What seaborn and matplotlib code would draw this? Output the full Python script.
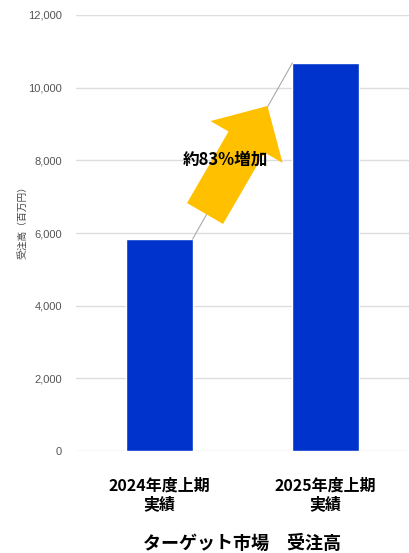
import matplotlib
matplotlib.use("Agg")
import matplotlib.pyplot as plt
import seaborn as sns
import pandas as pd

categories = ["2024年度上期\n実績", "2025年度上期\n実績"]
values = [5830, 10680]
yticks = [0, 2000, 4000, 6000, 8000, 10000, 12000]
ytick_labels = ["0", "2,000", "4,000", "6,000", "8,000", "10,000", "12,000"]
annotation_text = "約83%増加"
xlabel_text = "ターゲット市場　受注高"
ylabel_text = "受注高（百万円）"

sns.set_theme(style="white")
plt.rcParams['font.family'] = ['Noto Sans CJK JP', 'DejaVu Sans']

df = pd.DataFrame({"cat": categories, "val": values})

fig = plt.figure(figsize=(4.09, 5.53), dpi=100)
ax = fig.add_axes([0.1858, 0.1844, 0.8142, 0.7885])

sns.barplot(data=df, x="cat", y="val", color="#0033CC", saturation=1,
            width=0.4, ax=ax, zorder=2)

ax.set_xlim(-0.5, 1.5)
ax.set_ylim(0, 12000)
ax.set_yticks(yticks)
ax.set_yticklabels(ytick_labels, family=['Liberation Sans'], fontsize=8, color="#555555")
ax.tick_params(axis='y', length=0, pad=10)
ax.tick_params(axis='x', length=0, pad=19)
for lbl in ax.get_xticklabels():
    lbl.set_fontweight("bold")
    lbl.set_fontsize(11.5)
    lbl.set_color("black")
    lbl.set_linespacing(1.25)

ax.grid(axis='y', color="#dddddd", linewidth=1, zorder=0)
ax.grid(axis='x', visible=False)
for s in ax.spines.values():
    s.set_visible(False)

ax.set_xlabel(xlabel_text, fontsize=13, fontweight="bold", labelpad=15, color="black")
ax.set_ylabel(ylabel_text, fontsize=7, color="#444444", labelpad=4)
ax.yaxis.set_label_coords(-0.145, 0.53)

# connector line between bar tops
ax.plot([0 + 0.2, 1 - 0.2], [values[0], values[1]], color="#aaaaaa", lw=0.8, zorder=3)

# big yellow arrow
ax.annotate("", xy=(0.650, 9496), xytext=(0.275, 6537),
            arrowprops=dict(arrowstyle="simple,head_length=30,head_width=60,tail_width=30",
                            fc="#FFC000", ec="none", mutation_scale=1,
                            shrinkA=0, shrinkB=0), zorder=4)
ax.text(0.398, 8009, annotation_text, fontsize=12, fontweight="bold",
        ha="center", va="center", color="black", zorder=5)

fig.savefig("out.png", dpi=100)
